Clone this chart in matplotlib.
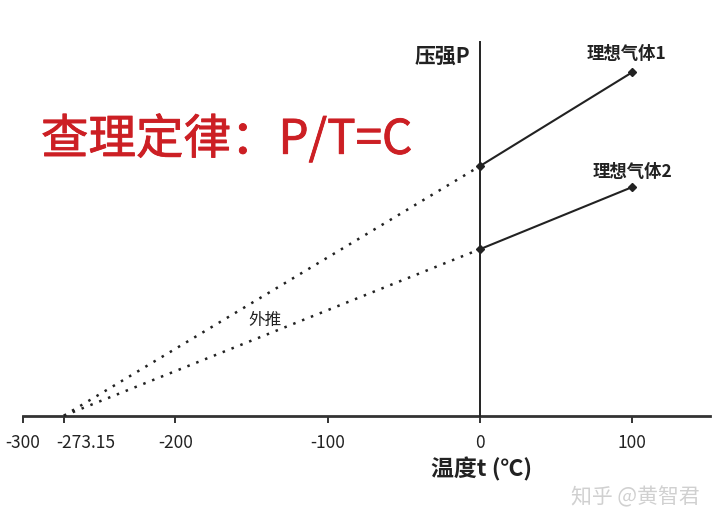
import matplotlib
matplotlib.use("Agg")
import matplotlib.pyplot as plt
import matplotlib.patheffects as pe

plt.rcParams['font.family'] = ['Noto Sans CJK SC', 'DejaVu Sans']

# Data
abs_zero = -273.15
t_meas = [0, 100]
p_gas1 = [1.0, 1.376]
p_gas2 = [0.667, 0.916]
gas_labels = ['理想气体1', '理想气体2']
xticks = [-300, -273.15, -200, -100, 0, 100]
xticklabels = ['-300', '', '-200', '-100', '0', '100']

W, H = 720, 526
fig = plt.figure(figsize=(W / 100, H / 100), dpi=100)
fig.patch.set_facecolor('white')
ax = fig.add_axes([23 / W, (H - 415.7) / H, (710 - 23) / W, (415.7 - 42) / H])
ax.set_xlim(-300, 151)
ax.set_ylim(0, 1.497)
ax.set_facecolor('none')

for s in ['top', 'right']:
    ax.spines[s].set_visible(False)
ax.spines['left'].set_position(('data', 0))
ax.spines['left'].set_linewidth(1.4)
ax.spines['left'].set_color('#222222')
ax.spines['bottom'].set_linewidth(2.0)
ax.spines['bottom'].set_color('#333333')
ax.spines['bottom'].set_zorder(1)
ax.set_yticks([])
ax.set_xticks(xticks)
ax.set_xticklabels(xticklabels)
ax.tick_params(axis='x', direction='out', length=5, width=1.4, colors='#333333',
               labelsize=12.5, pad=8, labelcolor='#222222')

dot_style = (0, (1, 2.8))
for p in (p_gas1, p_gas2):
    ax.plot([abs_zero, t_meas[0]], [0, p[0]], linestyle=dot_style, color='#222222',
            linewidth=1.8, clip_on=False)
    ax.plot(t_meas, p, color='#222222', linewidth=1.5, marker='D', markersize=4.5,
            clip_on=False, zorder=3)

ax.annotate('-273.15', xy=(abs_zero, 0), xytext=(16, -19.5), textcoords='offset points',
            ha='center', va='center', fontsize=12.5, color='#222222', annotation_clip=False)

ax.annotate(gas_labels[0], xy=(t_meas[1], p_gas1[1]), xytext=(-4, 13), textcoords='offset points',
            ha='center', va='center', fontsize=12.5, fontweight='bold', color='#222222')
ax.annotate(gas_labels[1], xy=(t_meas[1], p_gas2[1]), xytext=(0, 11), textcoords='offset points',
            ha='center', va='center', fontsize=12.5, fontweight='bold', color='#222222')

# Texts in figure coordinates
fig.text(470 / W, 1 - 56 / H, '压强P', ha='right', va='center', fontsize=15,
         fontweight='bold', color='#222222')
fig.text(482 / W, 1 - 469 / H, '温度t (℃)', ha='center', va='center', fontsize=16.5,
         fontweight='bold', color='#222222')
fig.text(41 / W, 1 - 140 / H, '查理定律：P/T=C', ha='left', va='center', fontsize=34.2,
         color='#cc1f24',
         path_effects=[pe.withStroke(linewidth=0.6, foreground='#cc1f24')])
fig.text(265 / W, 1 - 320 / H, '外推', ha='center', va='center', fontsize=12,
         fontweight='medium', color='#222222')
fig.text(635 / W, 1 - 497 / H, '知乎 @黄智君', ha='center', va='center', fontsize=15,
         fontweight='light', color='#d0d0d0')

fig.savefig('out.png', dpi=100, facecolor='white')
